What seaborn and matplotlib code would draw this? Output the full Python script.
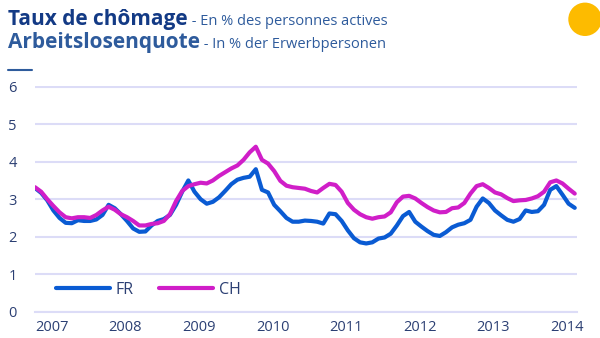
import matplotlib
matplotlib.use("Agg")
import matplotlib.pyplot as plt
from matplotlib.lines import Line2D
from matplotlib.patches import Ellipse
import numpy as np
import pandas as pd
import seaborn as sns

# Monthly unemployment rates, January 2007 to May 2014 (% of the labour force)
start_year = 2007
fr = [3.30, 3.17, 2.97, 2.70, 2.50, 2.37, 2.36, 2.44, 2.42, 2.42, 2.46, 2.58,
      2.85, 2.76, 2.60, 2.42, 2.22, 2.13, 2.14, 2.30, 2.42, 2.47, 2.58, 2.85,
      3.20, 3.50, 3.20, 3.00, 2.88, 2.93, 3.05, 3.22, 3.40, 3.52, 3.57, 3.60,
      3.80, 3.25, 3.18, 2.85, 2.68, 2.50, 2.40, 2.40, 2.43, 2.42, 2.40, 2.35,
      2.62, 2.60, 2.42, 2.17, 1.96, 1.85, 1.82, 1.85, 1.95, 1.98, 2.08, 2.30,
      2.55, 2.66, 2.40, 2.27, 2.15, 2.05, 2.02, 2.12, 2.25, 2.32, 2.36, 2.45,
      2.80, 3.02, 2.90, 2.70, 2.57, 2.45, 2.40, 2.47, 2.70, 2.66, 2.68, 2.85,
      3.25, 3.35, 3.12, 2.88, 2.77]
ch = [3.32, 3.20, 3.00, 2.82, 2.65, 2.52, 2.49, 2.52, 2.52, 2.50, 2.58, 2.70,
      2.80, 2.72, 2.60, 2.52, 2.42, 2.30, 2.30, 2.34, 2.36, 2.42, 2.60, 2.95,
      3.22, 3.35, 3.40, 3.44, 3.42, 3.50, 3.62, 3.72, 3.82, 3.90, 4.05, 4.25,
      4.40, 4.05, 3.95, 3.75, 3.49, 3.36, 3.32, 3.30, 3.28, 3.22, 3.18, 3.30,
      3.41, 3.38, 3.20, 2.90, 2.72, 2.60, 2.52, 2.48, 2.52, 2.54, 2.65, 2.92,
      3.07, 3.09, 3.02, 2.90, 2.79, 2.70, 2.65, 2.66, 2.76, 2.78, 2.90, 3.15,
      3.35, 3.40, 3.30, 3.18, 3.13, 3.03, 2.95, 2.97, 2.98, 3.02, 3.08, 3.20,
      3.45, 3.50, 3.42, 3.28, 3.15]
year_ticks = [2007, 2008, 2009, 2010, 2011, 2012, 2013, 2014]
y_ticks = [0, 1, 2, 3, 4, 5, 6]

t = start_year + np.arange(len(fr)) / 12.0
df = pd.DataFrame({
    "t": np.concatenate([t, t]),
    "taux": fr + ch,
    "pays": ["FR"] * len(fr) + ["CH"] * len(ch),
})

NAVY = "#133a85"
STEEL = "#2e5b9c"
TICK = "#2b3f73"
GRID = "#dcdcf7"
palette = {"FR": "#0a5bd3", "CH": "#d01ec8"}

sns.set_theme(style="white")
plt.rcParams["font.family"] = ["Open Sans", "DejaVu Sans"]

fig = plt.figure(figsize=(6, 3.38), dpi=100)
ax = fig.add_axes([35 / 600, 26.3 / 338, 541.7 / 600, 226.1 / 338])

sns.lineplot(data=df, x="t", y="taux", hue="pays", palette=palette,
             linewidth=3, ax=ax, legend=False, solid_capstyle="round")

ax.set_xlim(2007, 2014.36)
ax.set_ylim(0, 6.03)
ax.set_xticks(year_ticks)
ax.set_xticklabels([str(y) for y in year_ticks])
ax.set_yticks(y_ticks)
ax.set_yticklabels([str(v) for v in y_ticks])
ax.set_xlabel("")
ax.set_ylabel("")

for s in ["top", "right", "left"]:
    ax.spines[s].set_visible(False)
ax.spines["bottom"].set_color(GRID)
ax.spines["bottom"].set_linewidth(1.5)
ax.grid(axis="y", color=GRID, linewidth=1.5)
ax.grid(axis="x", visible=False)
ax.set_axisbelow(True)

ax.tick_params(axis="x", direction="out", length=3, width=1, color=GRID,
               labelsize=10.5, labelcolor=TICK, pad=3)
ax.tick_params(axis="y", length=0, labelsize=10.5, labelcolor=TICK, pad=13)
for lab in ax.get_xticklabels():
    lab.set_ha("left")

handles = [Line2D([0], [0], color=palette["FR"], lw=3, solid_capstyle="round"),
           Line2D([0], [0], color=palette["CH"], lw=3, solid_capstyle="round")]
leg = ax.legend(handles, ["FR", "CH"], loc="center left",
                bbox_to_anchor=(0.038, 0.096), ncol=2, frameon=False,
                handlelength=3.4, handletextpad=0.35, columnspacing=1.6,
                borderpad=0, borderaxespad=0, fontsize=11.5)
for txt in leg.get_texts():
    txt.set_color(TICK)

# Two-language heading
fig.canvas.draw()
r = fig.canvas.get_renderer()
h1 = fig.text(8 / 600, 1 - 25 / 338, "Taux de chômage", fontsize=15,
              fontweight="bold", color=NAVY, va="baseline")
h2 = fig.text(8 / 600, 1 - 48 / 338, "Arbeitslosenquote", fontsize=15,
              fontweight="bold", color=STEEL, va="baseline")
fig.canvas.draw()
for head, sub in [(h1, " - En % des personnes actives"),
                  (h2, " - In % der Erwerbpersonen")]:
    bb = head.get_window_extent(r)
    x0 = bb.x1 / fig.bbox.width
    fig.text(x0, head.get_position()[1], sub, fontsize=10.5, color=STEEL,
             va="baseline")

fig.add_artist(Line2D([8 / 600, 32 / 600], [1 - 69.5 / 338, 1 - 69.5 / 338],
                      color=STEEL, lw=1.5, transform=fig.transFigure))
fig.add_artist(Ellipse((585 / 600, 1 - 19.3 / 338), 33.4 / 600, 33.4 / 338,
                       color="#fdbb00", transform=fig.transFigure, lw=0))

fig.savefig("out.png", dpi=100)
